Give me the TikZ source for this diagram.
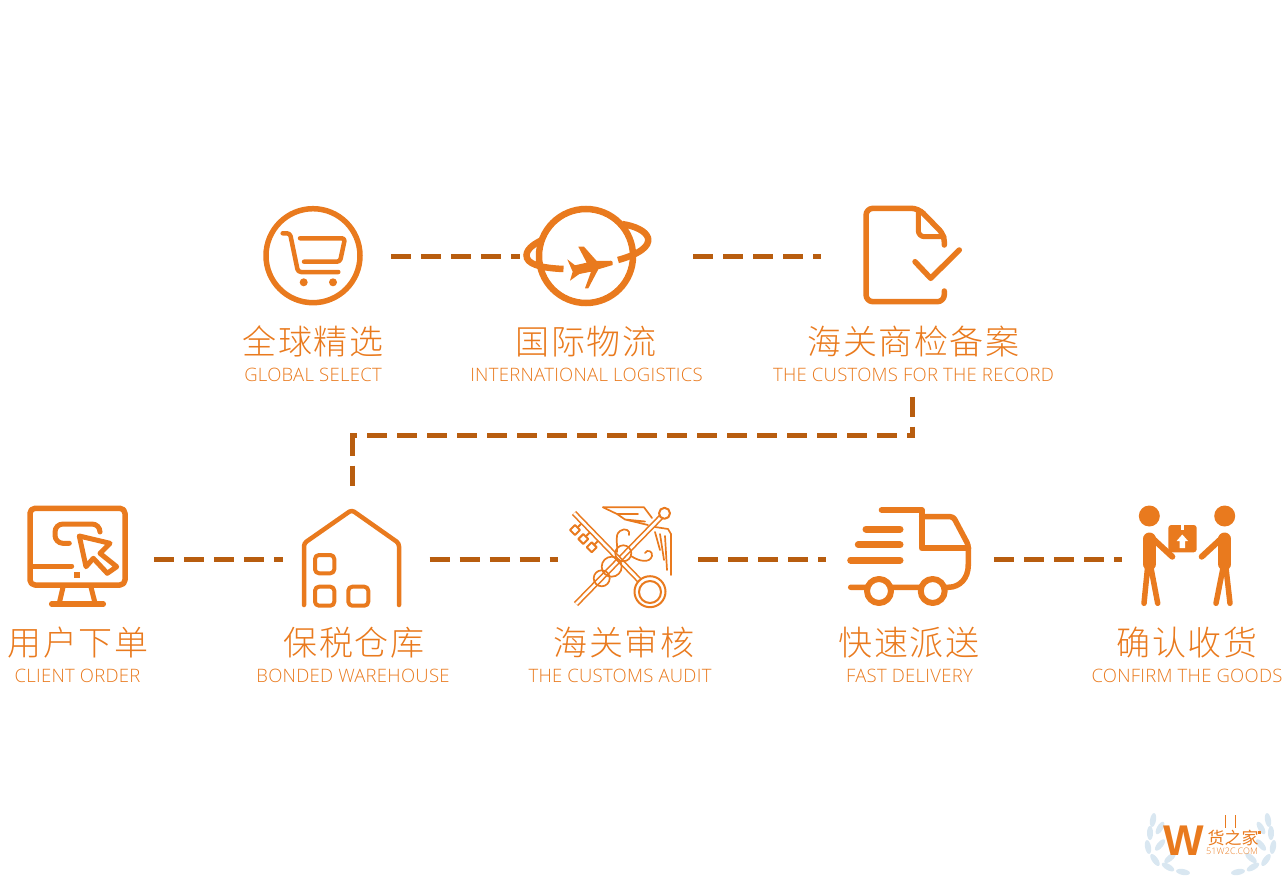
\documentclass[tikz,border=0pt]{standalone}
\usepackage{fontspec}
\newfontfamily\cjklight[UprightFont=* Light, LetterSpace=4.5]{Noto Sans CJK SC}
\newfontfamily\cjkbold{Noto Sans CJK SC}
\newfontfamily\logofont{Liberation Sans}
\setmainfont[LetterSpace=1.5]{Open Sans Light}
\definecolor{iconcolor}{HTML}{E97A1E}
\definecolor{dashcolor}{HTML}{B85D0F}
\definecolor{laurelcolor}{HTML}{D9E7F1}
\tikzset{
  iconbox/.style = {inner sep = 0pt, outer sep = 0pt, minimum height = 20pt},
  cnlabel/.style = {anchor = base, inner sep = 0pt, text = iconcolor, font = \fontsize{34}{34}\cjklight},
  enlabel/.style = {anchor = base, inner sep = 0pt, text = iconcolor, font = \fontsize{18.5}{18.5}\selectfont},
  flowline/.style = {draw = dashcolor, line width = 5pt, dash pattern = on 20pt off 10pt},
  iconline/.style = {draw = iconcolor, line width = 5pt, line cap = round, line join = round},
  thinline/.style = {draw = iconcolor, line width = 1.7pt, line cap = round, line join = round},
  twinline/.style = {draw = iconcolor, line width = 1.6pt, double = white, double distance = 2.6pt},
  leaf/.style = {fill = laurelcolor, draw = none}
}
\begin{document}
\begin{tikzpicture}[x = 1pt, y = -1pt]
\useasboundingbox (0,0) rectangle (1288,888);
% icon boxes, connectors run between them
\node[iconbox, minimum width = 100pt] (cart) at (313,256.7) {};
\node[iconbox, minimum width = 129pt] (plane) at (586.5,256.7) {};
\node[iconbox, minimum width = 99pt] (file) at (913.5,256.7) {};
\node[iconbox, minimum width = 101pt] (screen) at (77.5,559.3) {};
\node[iconbox, minimum width = 99pt, minimum height = 100pt] (house) at (352,559.3) {};
\node[iconbox, minimum width = 101pt] (keys) at (621.5,559.3) {};
\node[iconbox, minimum width = 124pt] (truck) at (910,559.3) {};
\node[iconbox, minimum width = 97pt] (people) at (1187.5,559.3) {};
% labels
\node[cnlabel] (globalcn) at (313,354) {全球精选};
\node[enlabel] (globalen) at (313,381.3) {GLOBAL SELECT};
\node[cnlabel] (logisticscn) at (586,354) {国际物流};
\node[enlabel] (logisticsen) at (586.5,381.3) {INTERNATIONAL LOGISTICS};
\node[cnlabel] (recordcn) at (913.5,354) {海关商检备案};
\node[enlabel] (recorden) at (913.5,381.3) {THE CUSTOMS FOR THE RECORD};
\node[cnlabel] (ordercn) at (78,655) {用户下单};
\node[enlabel] (orderen) at (77.5,682.3) {CLIENT ORDER};
\node[cnlabel] (bondedcn) at (354,655) {保税仓库};
\node[enlabel] (bondeden) at (353,682.3) {BONDED WAREHOUSE};
\node[cnlabel] (auditcn) at (624,655) {海关审核};
\node[enlabel] (auditen) at (620,682.3) {THE CUSTOMS AUDIT};
\node[cnlabel] (fastcn) at (909,655) {快速派送};
\node[enlabel] (fasten) at (909.5,682.3) {FAST DELIVERY};
\node[cnlabel] (confirmcn) at (1187,655) {确认收货};
\node[enlabel] (confirmen) at (1187,682.3) {CONFIRM THE GOODS};
% connectors
\coordinate (bendright) at (912.5,435.7);
\coordinate (bendleft) at (352,435.7);
\draw[flowline, shorten <= 28pt, shorten >= 2pt] (cart) -- (plane);
\draw[flowline, shorten <= 42pt, shorten >= 43pt] (plane) -- (file);
\draw[flowline, shorten <= 15pt] (recorden.south -| bendright) -- (bendright);
\draw[flowline, dash phase = 11.7pt, shorten <= -2.5pt, shorten >= -2.5pt] (bendright) -- (bendleft);
\draw[flowline, shorten >= 23.6pt] (bendleft) -- (house.north);
\draw[flowline, shorten <= 26pt, shorten >= 20pt] (screen) -- (house);
\draw[flowline, shorten <= 28pt, shorten >= 13pt] (house) -- (keys);
\draw[flowline, shorten <= 26pt, shorten >= 22pt] (keys) -- (truck);
\draw[flowline, shorten <= 22pt, shorten >= 17pt] (truck) -- (people);
% cart
\draw[iconline, line width = 5.5pt] (313,255.7) circle [radius = 47pt];
\draw[iconline, line width = 4.5pt, rounded corners = 3pt] (282.7,233.3) -- (290,233.3) -- (298,272) -- (338.3,272);
\draw[iconline, line width = 4.5pt, rounded corners = 3pt] (300,238.3) -- (345,238.3) -- (340,261.7) -- (304,261.7);
\fill[iconcolor] (303.7,282.3) circle [radius = 4pt] (333,282.3) circle [radius = 4pt];
% plane
\draw[iconcolor, line width = 6.5pt] (586,256) circle [radius = 47pt];
\fill[white] (556,262) rectangle (620,275);
\draw[draw = iconcolor, line width = 6.5pt] (563.5,269) .. controls (540,268) and (526,264) .. (526.5,255) .. controls (527,248) and (536,243) .. (542,240);
\draw[draw = white, line width = 9pt] (626,259) -- (616,262);
\draw[draw = iconcolor, line width = 6.5pt] (618,260) .. controls (640,254) and (650,246) .. (648,238) .. controls (646,231) and (635,226) .. (622,224);
\fill[iconcolor] (612.7,260.7) -- (596.7,261) -- (584,246.7) -- (578.3,246.7) -- (586.7,262.7) -- (575,265.3) -- (567.3,259.3) -- (572.7,271.7) -- (570,280.7) -- (579.3,274) -- (591,271.7) -- (585,288.3) -- (588.3,288.3) -- (598.3,269.3) -- (612.7,265) [rounded corners = 2pt] -- cycle;
% file
\draw[iconline, line width = 5.5pt, rounded corners = 7pt] (944.3,245) -- (944.3,235) -- (918.3,208.3) -- (866,208.3) -- (866,301.7) -- (944.3,301.7) -- (944.3,291);
\draw[iconline, rounded corners = 6pt] (918.3,210) -- (918.3,236.7) -- (944,236.7);
\draw[iconline, line width = 5.5pt] (915,261.7) -- (930.7,278.3) -- (959.3,250);
% screen
\draw[iconline, line width = 5.5pt, rounded corners = 5pt] (30,508.3) rectangle (125,585);
\draw[iconline] (31,566) -- (71.7,566);
\fill[iconcolor] (74.3,572) rectangle (80.3,578);
\draw[iconline] (63.3,586) -- (59.3,603) (90.7,586) -- (95,603);
\draw[iconline, line width = 5.5pt] (51.7,604) -- (103.3,604);
\draw[iconline, rounded corners = 8pt] (100,531.7) -- (100,524) -- (55,524) -- (55,543.3) -- (69.3,543.3);
\draw[iconline] (79.3,536) -- (110,543.3) -- (100,553.3) -- (116.7,566.7) -- (107.3,573.3) -- (93.3,558.3) -- (86,566.7) -- cycle;
% house
\draw[iconline, line width = 4.5pt, rounded corners = 3pt] (304,605) -- (304,543.3) -- (351.7,510) -- (399,543.3) -- (399,605);
\draw[iconline, line width = 4pt, rounded corners = 4pt] (315,555) rectangle (334.3,573.3);
\draw[iconline, line width = 4pt, rounded corners = 4pt] (315,586.7) rectangle (334.3,605.7);
\draw[iconline, line width = 4pt, rounded corners = 4pt] (348.3,586.7) rectangle (368.3,605.7);
% keys
\foreach \x/\y in {575/530, 583.3/539, 591.7/547.3} \draw[thinline, line width = 2pt] (\x,\y) -- (\x+7.8,\y-7.8);
\draw[twinline] (576,604) -- (662,516);
\draw[twinline] (574,513) -- (640,581);
\foreach \x/\y in {575/530, 583.3/539, 591.7/547.3} \draw[thinline, line width = 2pt, fill = white, rotate around = {45:(\x,\y)}] (\x-3.5,\y-3.5) rectangle (\x+3.5,\y+3.5);
\foreach \x/\y/\r in {601.7/578.3/8, 611.7/566.7/10, 623.3/553.3/8} \draw[thinline] (\x,\y) circle [radius = \r pt];
\draw[thinline, line width = 2pt, fill = white] (664.5,513.3) circle [radius = 5.5pt];
\draw[thinline, line width = 2pt, fill = white] (650,591.7) circle [radius = 15.5pt];
\draw[thinline, line width = 2pt] (650,592) circle [radius = 11pt];
\draw[thinline] (617,552) .. controls (618,542) and (614,536) .. (620,531) .. controls (625,527) and (631,531) .. (629,535);
\draw[thinline] (631,556) .. controls (640,562) and (650,563) .. (652,556) .. controls (653,551) and (647,549) .. (645,553);
\draw[thinline] (603,507.3) -- (644,507.3) -- (652,518);
\draw[thinline] (603,507.3) -- (617,514) -- (638,514) (617,514) -- (625,519.5) -- (645,521.5) (625,519.5) -- (648,525);
\draw[thinline] (655,527) -- (668,529) -- (671,534) -- (671,575);
\draw[thinline] (655,532) -- (660,550) (660,534) -- (664,560) (665,536) -- (667,570);
% truck
\draw[iconline, line width = 6pt] (881.7,510) -- (921.7,510) -- (921.7,548.3) -- (968.3,548.3);
\draw[iconline, line width = 5.5pt, rounded corners = 3pt] (921.7,516.7) -- (953.3,516.7) -- (968.3,545) -- (968.3,565);
\draw[iconline, line width = 5.5pt] (968.3,565) .. controls (968.3,578) and (960,587.3) .. (948.3,587.3) -- (850.7,587.3);
\foreach \y/\x in {529/866, 544.7/858.3, 560/850.7} \draw[iconline, line width = 7pt] (\x,\y) -- (900,\y);
\foreach \x in {879,932.7} \draw[iconline, line width = 6pt, fill = white] (\x,591) circle [radius = 12pt];
% people
\fill[iconcolor] (1149.3,516) circle [radius = 10.5pt] (1224.7,516) circle [radius = 10.5pt];
\draw[iconline, line width = 13pt] (1149.3,539) -- (1149.3,564) (1224.7,539) -- (1224.7,564);
\draw[iconline, line width = 6pt] (1151,537) -- (1172.3,556.7) (1223,537) -- (1201.7,556.7);
\draw[iconline, line width = 5.5pt] (1147.5,568) -- (1144,603.3) (1151,568) -- (1157.7,603.3) (1223,568) -- (1216,603.3) (1226,568) -- (1230,603.3);
\fill[iconcolor, rounded corners = 3pt] (1168.3,525) rectangle (1196.7,552.3);
\fill[white] (1180.5,525) rectangle (1184,530);
\fill[white] (1182.3,534.5) -- (1188,541) -- (1185,541) -- (1185,548) -- (1179.6,548) -- (1179.6,541) -- (1176.6,541) -- cycle;
% logo
\foreach \x/\y/\a in {1153/820/80, 1150/833/90, 1148/847/100, 1155/860/125, 1168/867/150, 1183/872/170, 1160/828/60, 1160/845/50, 1170/858/40}
  \fill[leaf, rotate around = {\a:(\x,\y)}] (\x,\y) ellipse [x radius = 7pt, y radius = 3pt];
\foreach \x/\y/\a in {1268/820/-80, 1271/833/-90, 1273/847/-100, 1266/860/-125, 1253/867/-150, 1238/872/-170, 1261/828/-60, 1261/845/-50, 1251/858/-40}
  \fill[leaf, rotate around = {\a:(\x,\y)}] (\x,\y) ellipse [x radius = 7pt, y radius = 3pt];
\node[inner sep = 0pt, text = iconcolor, font = \fontsize{43}{43}\logofont\bfseries] (logow) at (1183.5,841) {W};
\node[inner sep = 0pt, text = iconcolor, font = \fontsize{17}{17}\cjkbold] (logocn) at (1233,838) {货之家};
\node[inner sep = 0pt, text = iconcolor, font = \fontsize{9}{9}\selectfont] (logoen) at (1232,851) {51W2C.COM};
\fill[iconcolor] (1258,830.5) rectangle (1261,833.5);
\draw[iconcolor, line width = 0.7pt] (1225.7,815) -- (1225.7,828) (1235.7,815) -- (1235.7,828);
\end{tikzpicture}
\end{document}
